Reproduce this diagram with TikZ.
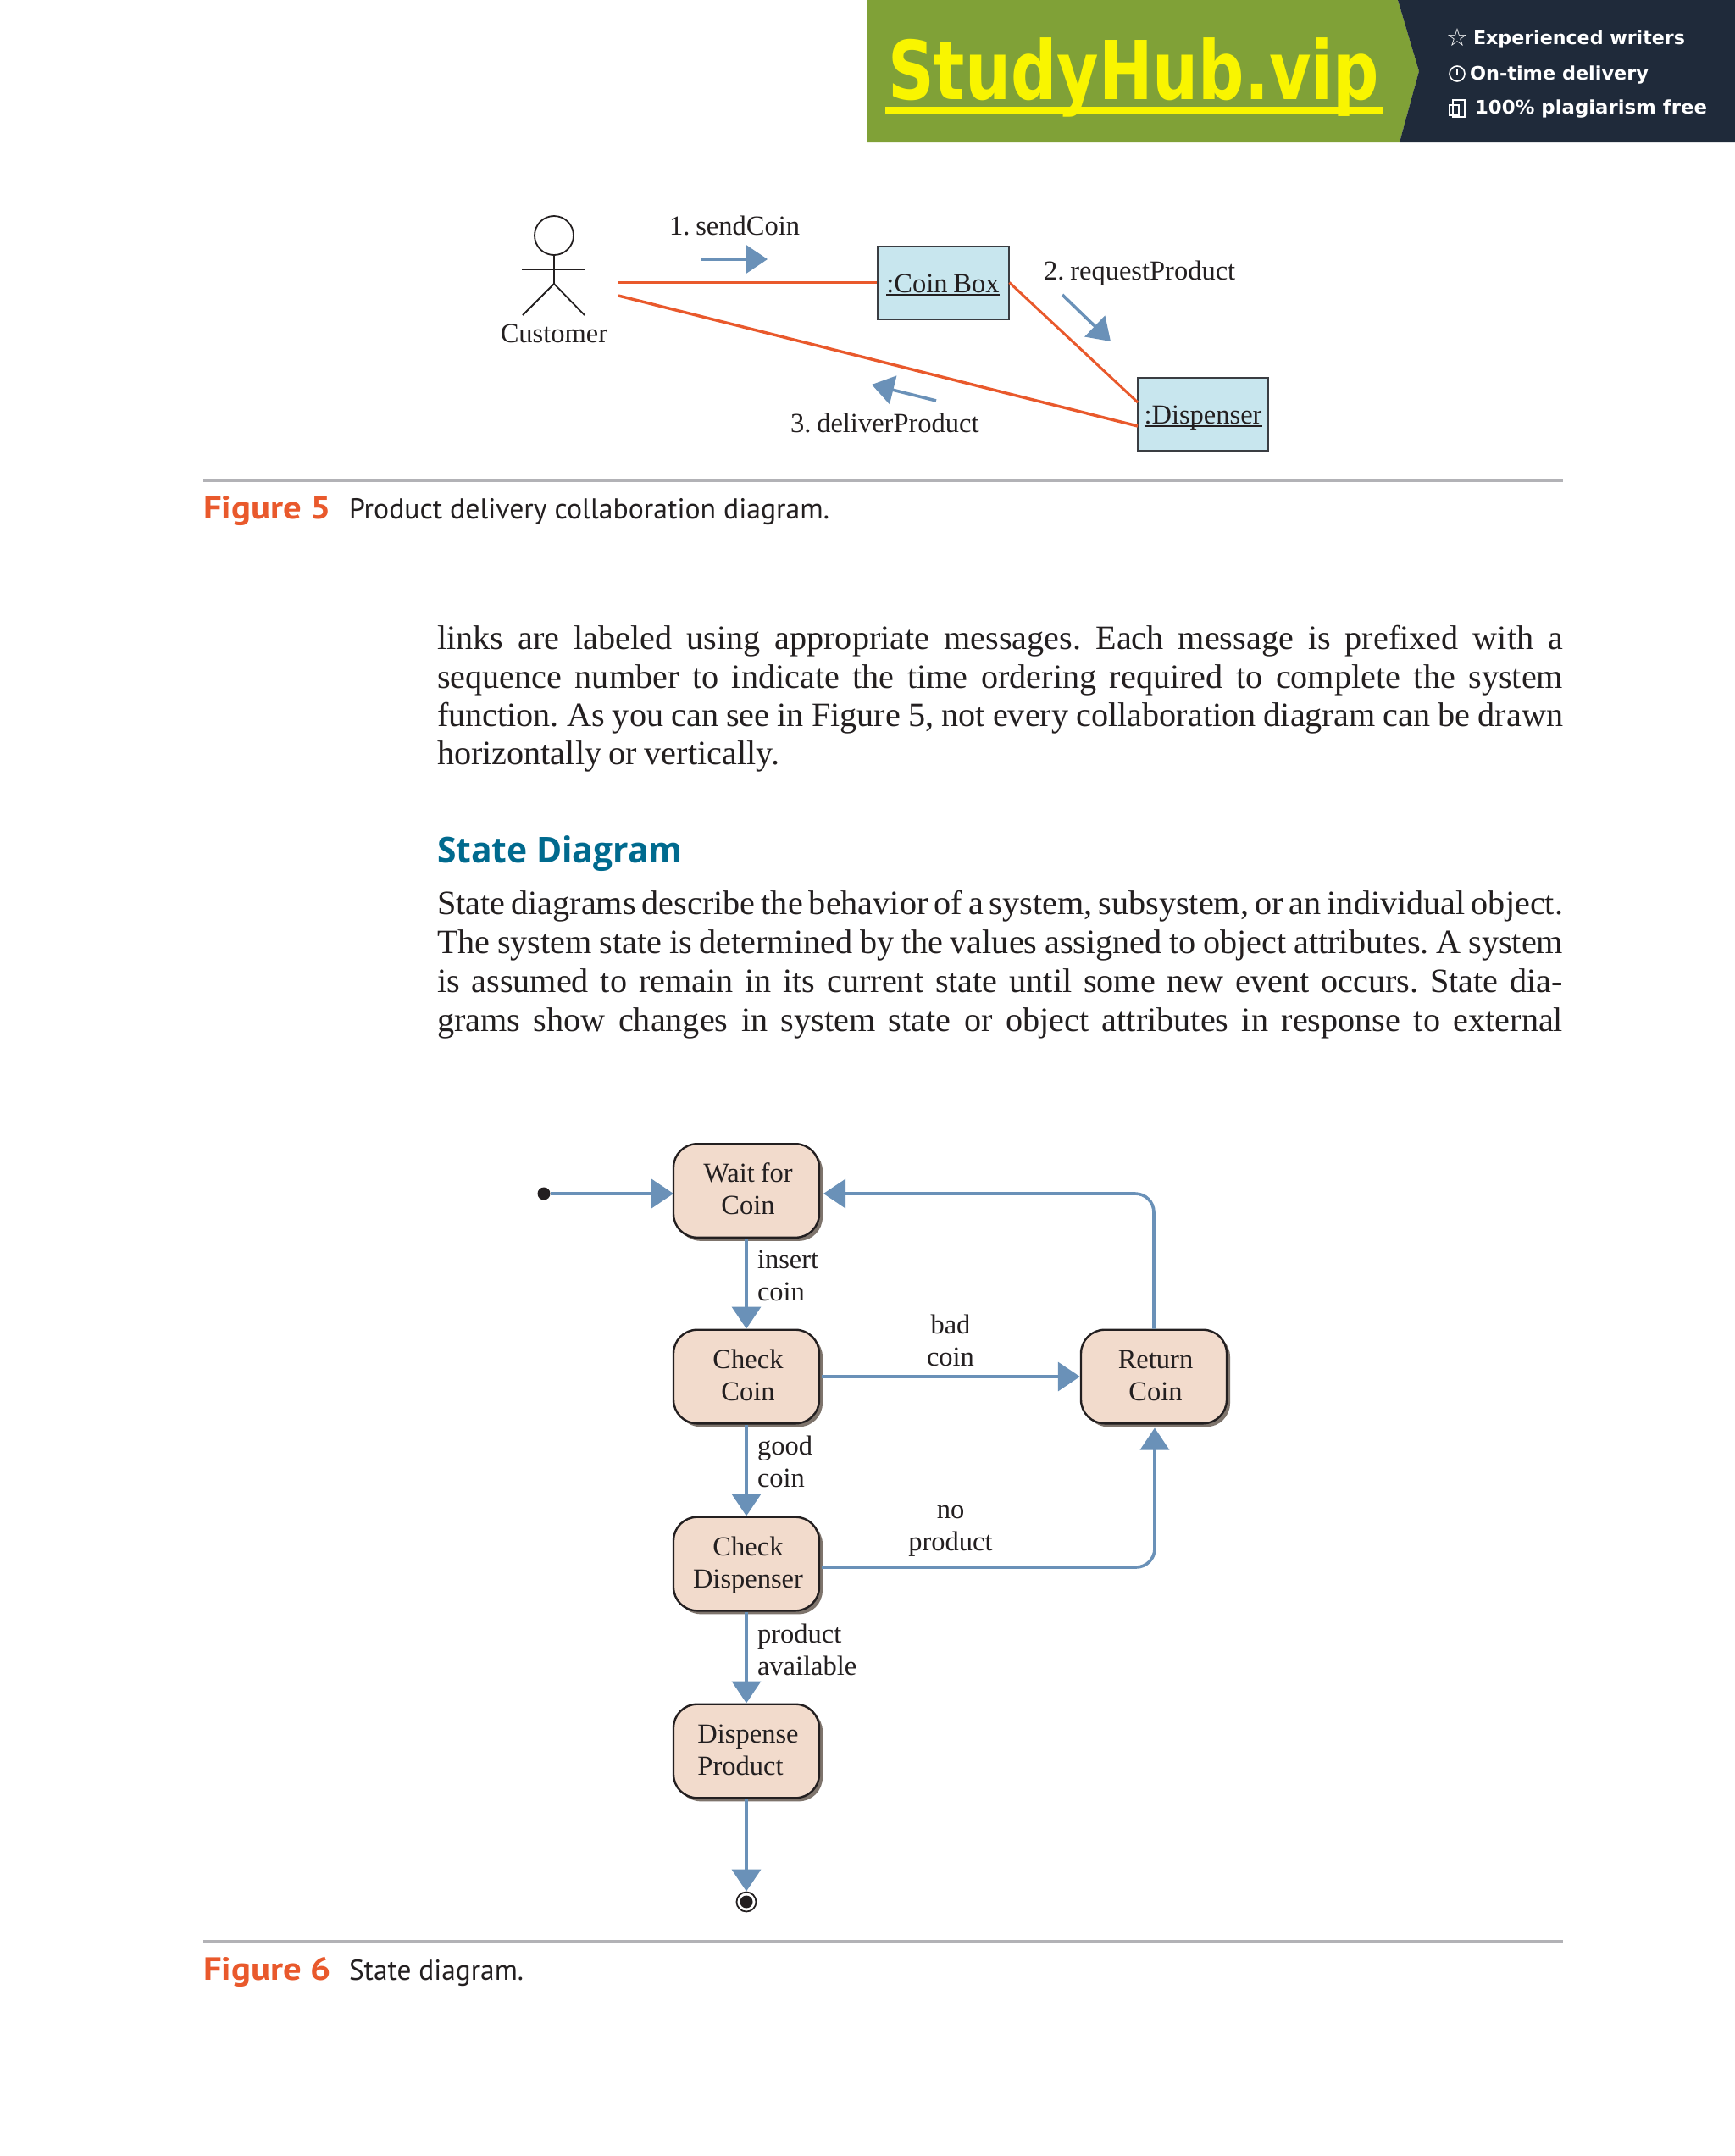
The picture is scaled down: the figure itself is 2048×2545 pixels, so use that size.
\documentclass[tikz,border=0pt]{standalone}
\usepackage{fontspec}
\usepackage{graphicx}
\usetikzlibrary{arrows.meta,shapes.geometric,shadows}
\setmainfont[WordSpace=0.85]{Liberation Serif}
\newfontfamily\capfont{PT Sans}
\newfontfamily\headfont{Open Sans}
\newfontfamily\bannerfont{DejaVu Sans}
\definecolor{inkc}{HTML}{231F20}
\definecolor{orangec}{HTML}{E9592C}
\definecolor{bluec}{HTML}{6A91B8}
\definecolor{cyanc}{HTML}{C8E6EE}
\definecolor{peachc}{HTML}{F2DBCC}
\definecolor{shadowc}{HTML}{7E746C}
\definecolor{rulec}{HTML}{B2B2B6}
\definecolor{tealc}{HTML}{006A8E}
\definecolor{greenc}{HTML}{80A137}
\definecolor{navyc}{HTML}{1F2A3A}
\definecolor{yellowc}{HTML}{F9F500}
\definecolor{capc}{HTML}{E9592C}
\newcommand{\ulbox}[1]{\setbox0\hbox{#1}\rlap{\rule[-0.13em]{\wd0}{0.065em}}\box0}
\newcommand{\jline}[1]{\makebox[664.5pt][s]{#1}}
\newcommand{\nudge}{\hspace*{2pt}}
\newcommand{\topnudge}{\hspace*{2pt}\rule{0pt}{12.6pt}}
\frenchspacing
\tikzset{
  txt/.style={inner sep=0pt,outer sep=0pt,text=inkc,font=\fontsize{16.25}{19}\selectfont},
  bodytxt/.style={inner sep=0pt,outer sep=0pt,anchor=base west,text=inkc,font=\fontsize{20.1}{22.8}\selectfont},
  link/.style={draw=orangec,line width=1.7pt},
  msg/.style={draw=bluec,line width=1.8pt,-{Triangle[length=13pt,width=17pt,fill=bluec]}},
  objbox/.style={draw=black!85!cyan,fill=cyanc,line width=1pt,inner sep=0pt,text=inkc,font=\fontsize{16.25}{19}\selectfont,minimum height=43pt},
  statebox/.style={draw=inkc,fill=peachc,line width=1.2pt,rounded corners=14pt,minimum width=86pt,minimum height=55.3pt,inner sep=0pt,text=inkc,font=\fontsize{16.25}{19}\selectfont,general shadow={shadow xshift=2pt,shadow yshift=-2pt,fill=shadowc}},
  stick/.style={draw=inkc,line width=0.9pt},
  caprule/.style={draw=rulec,line width=1.8pt},
  figlab/.style={inner sep=0pt,outer sep=0pt,anchor=base west,text=capc,font=\capfont\bfseries\fontsize{19}{20}\selectfont},
  figcap/.style={inner sep=0pt,outer sep=0pt,anchor=base west,text=inkc,font=\capfont\fontsize{17}{20}\selectfont},
  bantxt/.style={inner sep=0pt,outer sep=0pt,anchor=base west,text=white,font=\bannerfont\bfseries\fontsize{11}{13}\selectfont}
}
\begin{document}
\begin{tikzpicture}[x=0.5pt,y=-0.5pt]
\useasboundingbox (0,0) rectangle (2048,2545);
\fill[white] (0,0) rectangle (2048,2545);
% banner
\fill[greenc] (1024,0) -- (1650,0) -- (1675,84) -- (1652,168) -- (1024,168) -- cycle;
\fill[navyc] (1650,0) -- (2048,0) -- (2048,168) -- (1652,168) -- (1675,84) -- cycle;
\fill[yellowc] (1045,126) rectangle (1632,134);
\node[inner sep=0pt,outer sep=0pt,anchor=base west,text=yellowc] (logo) at (1048,117) {\resizebox{290pt}{\height}{\bannerfont\bfseries\fontsize{48}{50}\selectfont StudyHub.vip}};
\node[bantxt] (ban1) at (1739,52) {\resizebox{125pt}{\height}{Experienced writers}};
\node[bantxt] (ban2) at (1735,94) {\resizebox{105.5pt}{\height}{On-time delivery}};
\node[bantxt] (ban3) at (1741,134) {\resizebox{137pt}{\height}{100\% plagiarism free}};
\node[inner sep=0pt,text=white,font=\bannerfont\fontsize{14.5}{15}\selectfont] (banstar) at (1720,44) {☆};
\draw[white,line width=0.8pt] (1720,87) circle[radius=9];
\draw[white,line width=0.8pt] (1720,81) -- (1720,88);
\draw[white,line width=0.7pt] (1715,118) rectangle (1729,138);
\draw[white,line width=0.7pt] (1711,124) rectangle (1722,136);
% figure 5
\node[objbox,minimum width=77.5pt] (coinbox) at (1113,333.5) {\raisebox{-5.75pt}[0pt][0pt]{\ulbox{:Coin Box}}};
\node[objbox,minimum width=77pt] (disp) at (1420,489) {\raisebox{-5.5pt}[0pt][0pt]{\ulbox{:Dispenser}}};
\node[draw=inkc,line width=0.9pt,circle,minimum size=23pt,inner sep=0pt] (head) at (654,278) {};
\coordinate (hip) at (654,335);
\coordinate (armL) at (616,318);
\coordinate (armR) at (691,318);
\coordinate (footL) at (617,372);
\coordinate (footR) at (690,372);
\draw[stick] (head.south) -- (hip);
\draw[stick] (armL) -- (armR);
\draw[stick] (footL) -- (hip) -- (footR);
\node[txt,anchor=base] (cust) at (654,404.5) {Customer};
\coordinate (c1) at (730,333.5);
\coordinate (c2) at (730,349);
\coordinate (d1) at (1343,475);
\coordinate (d2) at (1343,503);
\draw[link] (c1) -- (coinbox.west);
\draw[link] (c2) -- (d2);
\draw[link,line width=1.5pt] (coinbox.east) -- (d1);
\coordinate (m1a) at (828,306);
\coordinate (m1b) at (906,306);
\coordinate (m2a) at (1254,348);
\coordinate (m2b) at (1311,403);
\coordinate (m3a) at (1105,473);
\coordinate (m3b) at (1029,454);
\draw[msg] (m1a) -- (m1b);
\draw[msg] (m2a) -- (m2b);
\draw[msg] (m3a) -- (m3b);
\node[txt,anchor=base west] (l1) at (790,277) {1. sendCoin};
\node[txt,anchor=base west] (l2) at (1232,330) {2. requestProduct};
\node[txt,anchor=base west] (l3) at (933,510) {3. deliverProduct};
\draw[caprule] (240,567) coordinate (r1a) -- (1845,567) coordinate (r1b);
\node[figlab] (f5) at (240,612) {\resizebox{75.5pt}{\height}{Figure 5}};
\node[figcap] (f5c) at (412,612) {\resizebox{283.5pt}{\height}{Product delivery collaboration diagram.}};
% body
\node[bodytxt] (b1) at (516,766) {\jline{links are labeled using appropriate messages. Each message is prefixed with a}};
\node[bodytxt] (b2) at (516,812) {\jline{sequence number to indicate the time ordering required to complete the system}};
\node[bodytxt] (b3) at (516,857) {\jline{function. As you can see in Figure 5, not every collaboration diagram can be drawn}};
\node[bodytxt] (b4) at (516,902) {horizontally or vertically.};
\node[inner sep=0pt,outer sep=0pt,anchor=base west,text=tealc,font=\headfont\bfseries\fontsize{21}{24}\selectfont] (head2) at (516,1018) {\resizebox{145pt}{\height}{State Diagram}};
\node[bodytxt] (b5) at (516,1079) {\jline{State diagrams describe the behavior of a system, subsystem, or an individual object.}};
\node[bodytxt] (b6) at (516,1125) {\jline{The system state is determined by the values assigned to object attributes. A system}};
\node[bodytxt] (b7) at (516,1171) {\jline{is assumed to remain in its current state until some new event occurs. State dia-}};
\node[bodytxt] (b8) at (516,1217) {\jline{grams show changes in system state or object attributes in response to external}};
% figure 6
\node[statebox,align=center] (wait) at (881,1405.5) {\topnudge Wait for\\\nudge Coin\vphantom{p}};
\node[statebox,align=center] (check) at (881,1625) {\topnudge Check\\\nudge Coin\vphantom{p}};
\node[statebox,align=center] (checkd) at (881,1846) {\topnudge Check\\\nudge Dispenser};
\node[statebox,align=left] (dispense) at (881,2067) {\topnudge Dispense\\\nudge Product\vphantom{p}};
\node[statebox,align=center] (ret) at (1362,1625) {\topnudge Return\\\nudge Coin\vphantom{p}};
\node[circle,fill=inkc,minimum size=7.5pt,inner sep=0pt] (start) at (642,1409) {};
\node[circle,draw=inkc,fill=white,line width=0.9pt,minimum size=11.5pt,inner sep=0pt] (final) at (881,2245) {};
\node[circle,fill=inkc,minimum size=7.5pt,inner sep=0pt] (finaldot) at (881,2245) {};
\coordinate (waitin) at (795,1409);
\coordinate (waitback) at (972,1409);
\coordinate (checkdout) at (970,1850);
\coordinate (retin) at (1363,1685.5);
\coordinate (checkout) at (970,1625);
\draw[msg] (start) -- (waitin);
\draw[msg] (wait.south) -- (check.north);
\draw[msg] (check.south) -- (checkd.north);
\draw[msg] (checkd.south) -- (dispense.north);
\draw[msg] (dispense.south) -- (final.north);
\draw[msg] (checkout) -- (ret.west);
\draw[msg,rounded corners=11pt] (ret.north) |- (waitback);
\draw[msg,rounded corners=11pt] (checkdout) -| (retin);
\node[txt,anchor=base west,align=left] (t1) at (894,1535.5) {insert\\coin};
\node[txt,anchor=base west,align=left] (t2) at (894,1755) {good\\coin};
\node[txt,anchor=base west,align=left] (t3) at (894,1977) {product\\available};
\node[txt,anchor=base,align=center] (t4) at (1122,1612) {bad\\coin};
\node[txt,anchor=base,align=center] (t5) at (1122,1830) {no\\product};
\draw[caprule] (240,2292) coordinate (r2a) -- (1845,2292) coordinate (r2b);
\node[figlab] (f6) at (240,2337) {\resizebox{75.5pt}{\height}{Figure 6}};
\node[figcap] (f6c) at (412,2337) {\resizebox{103pt}{\height}{State diagram.}};
\end{tikzpicture}
\end{document}
